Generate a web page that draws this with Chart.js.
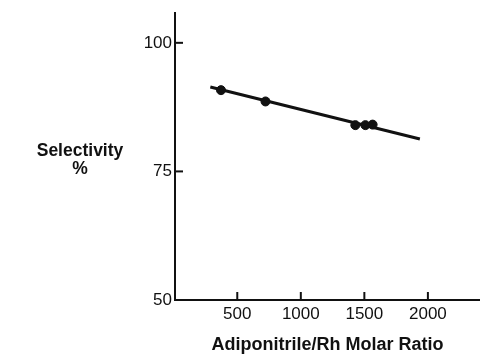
<!DOCTYPE html>
<html>
<head>
<meta charset="utf-8">
<script src="https://cdn.jsdelivr.net/npm/chart.js@4"></script>
<style>
  body { margin: 0; background: #fff; }
  #wrap { width: 480px; height: 357px; }
</style>
</head>
<body>
<div id="wrap"><canvas id="selChart" width="480" height="357"></canvas></div>
<script>
// measured points (adiponitrile/Rh ratio vs selectivity %)
const ratios = [372, 722, 1429, 1508, 1565];
const selectivity = [90.8, 88.6, 84.0, 84.0, 84.1];

// the drawn fit line, end points
const fitRatio = [288, 1937];
const fitSelectivity = [91.4, 81.3];

const xTicks = [500, 1000, 1500, 2000];
const yTicks = [50, 75, 100];

const FONT = '"Liberation Sans", Arial, Helvetica, sans-serif';

// inward tick marks + horizontal y label
const axisExtras = {
    id: 'axisExtras',
    afterDraw(chart) {
        const { ctx, chartArea, scales } = chart;
        ctx.save();
        ctx.strokeStyle = '#111';
        ctx.lineWidth = 2;
        xTicks.forEach(v => {
            const px = scales.x.getPixelForValue(v);
            ctx.beginPath();
            ctx.moveTo(px, chartArea.bottom);
            ctx.lineTo(px, chartArea.bottom - 8);
            ctx.stroke();
        });
        yTicks.forEach(v => {
            const py = scales.y.getPixelForValue(v);
            ctx.beginPath();
            ctx.moveTo(chartArea.left, py);
            ctx.lineTo(chartArea.left + 8, py);
            ctx.stroke();
        });

        ctx.fillStyle = '#111';
        ctx.font = 'bold 17.5px ' + FONT;
        ctx.textAlign = 'center';
        ctx.textBaseline = 'alphabetic';
        ctx.fillText('Selectivity', 80, 156);
        ctx.fillText('%', 80, 174);
        ctx.restore();
    }
};

const chart = new Chart(document.getElementById('selChart'), {
    type: 'scatter',
    data: {
        datasets: [
            {
                label: 'points',
                data: ratios.map((r, i) => ({ x: r, y: selectivity[i] })),
                pointRadius: 4.5,
                pointBackgroundColor: '#111',
                pointBorderColor: '#111',
                showLine: false,
            },
            {
                label: 'fit',
                data: fitRatio.map((r, i) => ({ x: r, y: fitSelectivity[i] })),
                showLine: true,
                borderColor: '#111',
                borderWidth: 3,
                pointRadius: 0,
            },
        ],
    },
    options: {
        responsive: false,
        animation: false,
        layout: { autoPadding: false, padding: { top: 13, left: 0, right: 0, bottom: 0 } },
        plugins: {
            legend: { display: false },
            tooltip: { enabled: false },
        },
        scales: {
            x: {
                type: 'linear',
                min: 10,
                max: 2410,
                afterFit: s => { s.height = 57; s.paddingLeft = 0; s.paddingRight = 0; },
                afterBuildTicks: s => { s.ticks = xTicks.map(v => ({ value: v })); },
                grid: { display: false, drawTicks: false },
                border: { display: true, color: '#111', width: 2 },
                ticks: {
                    padding: 4,
                    color: '#111',
                    font: { family: FONT, size: 17 },
                    callback: v => String(v),
                },
                title: {
                    display: true,
                    text: 'Adiponitrile/Rh Molar Ratio',
                    color: '#111',
                    font: { family: FONT, size: 18, weight: 'bold', lineHeight: 1.2 },
                    padding: { top: 0, bottom: 1 },
                },
            },
            y: {
                min: 50,
                max: 105.8,
                afterFit: s => { s.width = 175; s.paddingTop = 0; s.paddingBottom = 0; },
                afterBuildTicks: s => { s.ticks = yTicks.map(v => ({ value: v })); },
                grid: { display: false, drawTicks: false },
                border: { display: true, color: '#111', width: 2 },
                ticks: {
                    padding: 3,
                    color: '#111',
                    font: { family: FONT, size: 17 },
                    callback: v => String(v),
                },
            },
        },
    },
    plugins: [axisExtras],
});
</script>
</body>
</html>
